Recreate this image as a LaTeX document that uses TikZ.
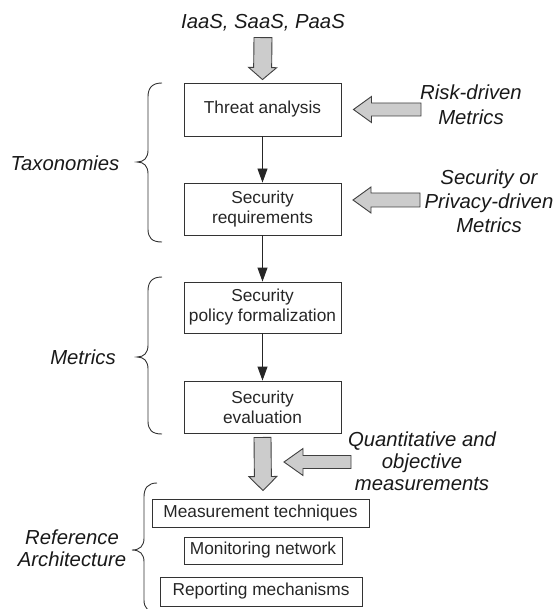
\documentclass[tikz,border=0pt]{standalone}
\usepackage{fontspec}
\setmainfont{Liberation Sans}
\usetikzlibrary{calc,arrows.meta}
% tail, tip, shaft half width, head half width, head length
\newcommand{\myfatarrow}[5]{%
  \path ($(#2)!#5!(#1)$) coordinate (fatH);
  \draw[fatstyle] ($(#1)!#3!90:(#2)$) -- ($(fatH)!#3!90:(#2)$) -- ($(fatH)!#4!90:(#2)$) -- (#2)
    -- ($(fatH)!#4!-90:(#2)$) -- ($(fatH)!#3!-90:(#2)$) -- ($(#1)!#3!-90:(#2)$) -- cycle;}
\begin{document}
\begin{tikzpicture}[x=1pt,y=-1pt,line join=miter,
  box/.style={draw=black!80,line width=0.9pt,inner sep=0pt,align=center,
    font=\fontsize{17.3}{20}\selectfont,text=black!85},
  lbl/.style={inner sep=0pt,align=center,font=\fontsize{20.3}{24}\selectfont\itshape,text=black!90},
  thinarrow/.style={draw=black!85,line width=0.9pt,-{Triangle[length=14pt,width=10pt]}},
  fatstyle/.style={draw=black!75,fill=gray!40,line width=0.9pt},
  bracestyle/.style={draw=black!80,line width=0.9pt}]
\useasboundingbox (0,0) rectangle (555,609);

% main boxes
\node[box,minimum width=157pt,minimum height=53pt] (threat) at (262.5,109.5) {Threat analysis};
\node[box,minimum width=157pt,minimum height=52pt] (secreq) at (262.5,209) {Security\\requirements};
\node[box,minimum width=157pt,minimum height=51pt] (policy) at (262.5,307.5) {Security\\policy formalization};
\node[box,minimum width=157pt,minimum height=52pt] (evalb) at (262.5,407) {Security\\evaluation};
\node[box,minimum width=217pt,minimum height=28pt] (meas) at (260.5,513) {Measurement techniques};
\node[box,minimum width=158pt,minimum height=27pt] (mon) at (263,550.5) {Monitoring network};
\node[box,minimum width=202pt,minimum height=29pt] (rep) at (261,591.5) {Reporting mechanisms};

% labels
\node[lbl] (iaas) at (263,23) {IaaS, SaaS, PaaS};
\node[lbl,font=\fontsize{20.3}{25}\selectfont\itshape] (risk) at (471,104.5) {Risk-driven\\Metrics};
\node[lbl] (secpriv) at (489,201) {Security or\\Privacy-driven\\Metrics};
\node[lbl,font=\fontsize{20.3}{22}\selectfont\itshape] (quant) at (422,461) {Quantitative and\\objective\\measurements};
\node[lbl] (tax) at (65,163) {Taxonomies};
\node[lbl] (met) at (83,357) {Metrics};
\node[lbl,font=\fontsize{20.3}{22}\selectfont\itshape] (refarch) at (72,548) {Reference\\Architecture};

% thin arrows
\draw[thinarrow] (threat) -- (secreq);
\draw[thinarrow] (secreq) -- (policy);
\draw[thinarrow] (policy) -- (evalb);

% fat arrows
\coordinate (topTail) at ($(iaas.south)+(0,6)$);
\coordinate (topTip) at ($(threat.north)+(0,-3)$);
\myfatarrow{topTail}{topTip}{9pt}{14pt}{12pt}
\coordinate (botTail) at ($(evalb.south)+(0,4)$);
\coordinate (botTip) at ($(meas.north)+(2.5,-8)$);
\myfatarrow{botTail}{botTip}{8.5pt}{14pt}{14pt}
\coordinate (riskTail) at (421,109.5);
\coordinate (riskTip) at ($(threat.east)+(12,0)$);
\myfatarrow{riskTail}{riskTip}{6.5pt}{13pt}{18pt}
\coordinate (secTail) at (420,200);
\coordinate (secTip) at (353,200);
\myfatarrow{secTail}{secTip}{7pt}{13pt}{18pt}
\coordinate (quantTail) at (351,462);
\coordinate (quantTip) at (284,462);
\myfatarrow{quantTail}{quantTip}{6.5pt}{13.5pt}{19pt}

% braces
\draw[bracestyle] (162,83) .. controls (152,83) and (148,88) .. (148,97) -- (148,150)
  .. controls (148,158) and (144,162) .. (137,162) .. controls (144,162) and (148,166) .. (148,174)
  -- (148,229) .. controls (148,238) and (152,242) .. (162,242);
\draw[bracestyle] (162,277) .. controls (152,277) and (148,282) .. (148,291) -- (148,345)
  .. controls (148,353) and (144,357) .. (137,357) .. controls (144,357) and (148,361) .. (148,369)
  -- (148,421) .. controls (148,430) and (152,434) .. (162,434);
\draw[bracestyle] (157,483) .. controls (148,483) and (144,488) .. (144,497) -- (144,538)
  .. controls (144,546) and (140,550) .. (132,550) .. controls (140,550) and (144,554) .. (144,562)
  -- (144,600) .. controls (144,608) and (148,612) .. (157,612);
\end{tikzpicture}
\end{document}
